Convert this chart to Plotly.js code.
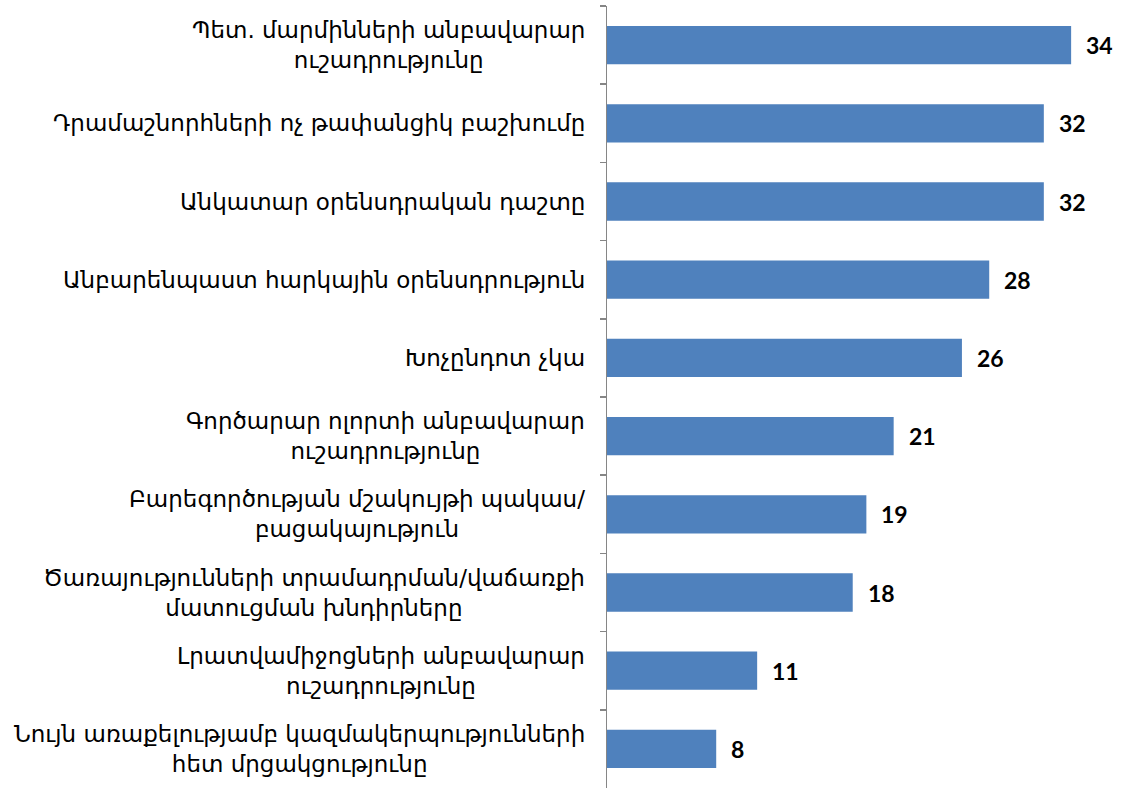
<!DOCTYPE html>
<html><head><meta charset="utf-8">
<script src="https://cdn.plot.ly/plotly-3.0.1.min.js"></script>
<style>html,body{margin:0;padding:0;background:#fff}</style>
</head><body>
<div id="chart" style="width:1122px;height:789px"></div>
<script>
const categories = [
  "Պետ. մարմինների անբավարար<br>ուշադրությունը",
  "Դրամաշնորհների ոչ թափանցիկ բաշխումը",
  "Անկատար օրենսդրական դաշտը",
  "Անբարենպաստ հարկային օրենսդրություն",
  "Խոչընդոտ չկա",
  "Գործարար ոլորտի անբավարար<br>ուշադրությունը",
  "Բարեգործության մշակույթի պակաս/<br>բացակայություն",
  "Ծառայությունների տրամադրման/վաճառքի<br>մատուցման խնդիրները",
  "Լրատվամիջոցների անբավարար<br>ուշադրությունը",
  "Նույն առաքելությամբ կազմակերպությունների<br>հետ մրցակցությունը"
];
const values = [34, 32, 32, 28, 26, 21, 19, 18, 11, 8];
const valueLabels = values.map(v => String(v));

const ids = categories.map((c, i) => "c" + i);

const trace = {
  type: "bar",
  orientation: "h",
  y: ids,
  x: values,
  marker: {color: "#4F81BD", line: {color: "#4F81BD", width: 0}},
  width: 0.49,
  hoverinfo: "none"
};

const annotations = [];
categories.forEach((c, i) => {
  annotations.push({
    xref: "paper", yref: "y", x: 0, y: ids[i],
    text: c, showarrow: false, xanchor: "right", yanchor: "middle",
    align: "center", xshift: -20,
    font: {family: "DejaVu Sans", size: 23, color: "#000"}
  });
  annotations.push({
    xref: "x", yref: "y", x: values[i], y: ids[i],
    text: "<b>" + valueLabels[i] + "</b>", showarrow: false,
    xanchor: "left", yanchor: "middle", xshift: 13,
    font: {family: "Lato", size: 23, color: "#000"}
  });
});

const layout = {
  width: 1122, height: 789,
  margin: {l: 607, r: 5, t: 6, b: 1},
  paper_bgcolor: "#fff", plot_bgcolor: "#fff",
  showlegend: false,
  xaxis: {range: [0, 37.36], visible: false, fixedrange: true},
  yaxis: {
    type: "category", autorange: "reversed",
    showticklabels: false,
    ticks: "outside", tickson: "boundaries", ticklen: 6,
    tickcolor: "#868686", tickwidth: 1.5,
    showline: true, linecolor: "#868686", linewidth: 1.5,
    showgrid: false, zeroline: false
  },
  annotations: annotations
};

Plotly.newPlot("chart", [trace], layout, {displayModeBar: false, staticPlot: true});
</script>
</body></html>
